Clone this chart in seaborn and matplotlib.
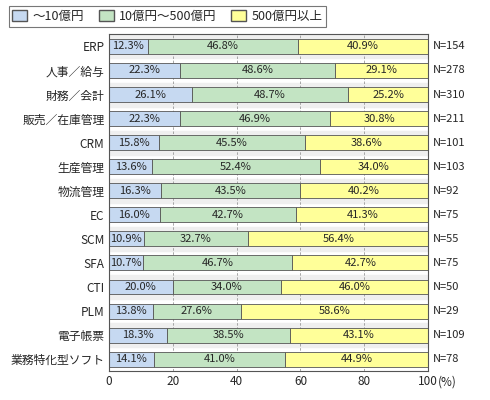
import matplotlib
matplotlib.use("Agg")
import matplotlib.pyplot as plt
import seaborn as sns
import numpy as np
from matplotlib.patches import Patch

categories = ["ERP","人事／給与","財務／会計","販売／在庫管理","CRM","生産管理","物流管理","EC","SCM","SFA","CTI","PLM","電子帳票","業務特化型ソフト"]
small = [12.3,22.3,26.1,22.3,15.8,13.6,16.3,16.0,10.9,10.7,20.0,13.8,18.3,14.1]
mid = [46.8,48.6,48.7,46.9,45.5,52.4,43.5,42.7,32.7,46.7,34.0,27.6,38.5,41.0]
large = [40.9,29.1,25.2,30.8,38.6,34.0,40.2,41.3,56.4,42.7,46.0,58.6,43.1,44.9]
counts = [154,278,310,211,101,103,92,75,55,75,50,29,109,78]
series_names = ["～10億円","10億円～500億円","500億円以上"]
colors = ["#c6d9f1","#c3e4c3","#ffff99"]

sns.set_theme(style="white")
plt.rcParams['font.family'] = ['Noto Sans CJK JP','DejaVu Sans']

fig = plt.figure(figsize=(4.9,4.0), dpi=100)
ax = fig.add_axes([0.222,0.072,0.652,0.842])
y = np.arange(len(categories))
for i in y:
    if i % 2 == 0:
        ax.axhspan(i-0.5, i+0.5, color="#efefef", zorder=0)
for xv in [20,40,60,80]:
    ax.axvline(xv, color="#999999", lw=0.6, ls=(0,(3,2)), zorder=1)
left = np.zeros(len(categories))
for vals, c in zip([small,mid,large], colors):
    vals = np.array(vals)
    ax.barh(y, vals, left=left, height=0.62, color=c, edgecolor="#555555", linewidth=0.6, zorder=2)
    for yi, l, v in zip(y, left, vals):
        ax.text(l+v/2, yi, f"{v:.1f}%", ha="center", va="center", fontsize=8, zorder=3)
    left += vals
for yi, n in zip(y, counts):
    ax.text(101.5, yi, f"N={n}", ha="left", va="center", fontsize=8)
ax.set_xlim(0,100)
ax.set_ylim(len(categories)-0.5, -0.5)
ax.set_yticks(y)
ax.set_yticklabels(categories, fontsize=8.5)
ax.set_xticks([0,20,40,60,80,100])
ax.set_xticklabels(["0","20","40","60","80","100"], fontsize=8.5)
ax.text(103,len(categories)-0.5+0.45,"(%)",fontsize=8.5,ha="left",va="center")
ax.tick_params(axis="both", length=0, pad=3)
for s in ax.spines.values():
    s.set_color("#555555"); s.set_linewidth(0.8)
handles = [Patch(facecolor=c, edgecolor="#555555", label=n) for c,n in zip(colors, series_names)]
leg = fig.legend(handles=handles, loc="upper left", bbox_to_anchor=(0.005,1.0), ncol=3, frameon=True,
           fontsize=9, handlelength=1.2, handleheight=1.0, columnspacing=1.2, handletextpad=0.4,
           fancybox=False, borderpad=0.3)
leg.get_frame().set_edgecolor("#555555")
leg.get_frame().set_linewidth(0.8)
fig.savefig("out.png", dpi=100)
